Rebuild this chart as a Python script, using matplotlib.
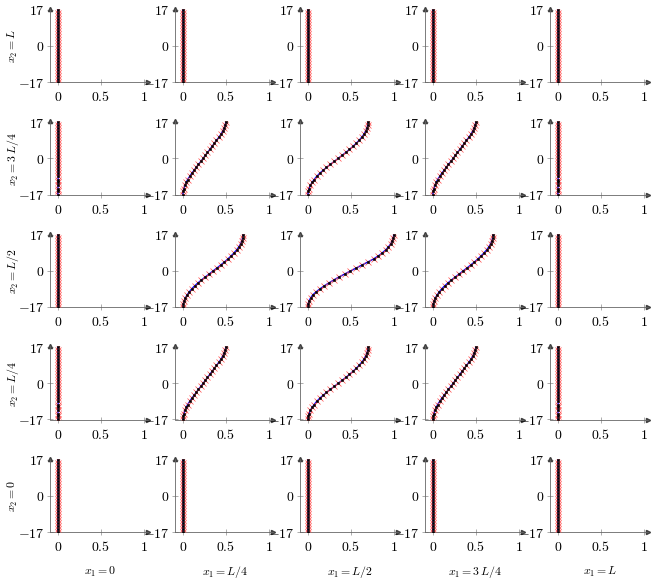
import numpy as np
import matplotlib
matplotlib.use('Agg')
import matplotlib.pyplot as plt

plt.rcParams['mathtext.fontset'] = 'cm'
plt.rcParams['font.family'] = 'serif'

# sample coordinates along x2 (same for all panels)
x2 = [-17, -15.58, -14.17, -12.75, -11.33, -9.92, -8.5, -7.08, -5.67, -4.25, -2.83, -1.42, 0,
      1.42, 2.83, 4.25, 5.67, 7.08, 8.5, 9.92, 11.33, 12.75, 14.17, 15.58, 17]

# displacement profiles
tiny = [0, 0.0005, 0.001, 0.0015, 0.002, 0.002, 0.0025, 0.0025, 0.003, 0.003, 0.003, 0.003, 0.003,
        0.003, 0.003, 0.003, 0.003, 0.0025, 0.0025, 0.002, 0.002, 0.0015, 0.001, 0.0005, 0]
small = [0, 0.001, 0.002, 0.003, 0.004, 0.004, 0.005, 0.005, 0.006, 0.006, 0.006, 0.006, 0.006,
         0.006, 0.006, 0.006, 0.006, 0.005, 0.005, 0.004, 0.004, 0.003, 0.002, 0.001, 0]
mid = [0, 0.001, 0.002, 0.003, 0.004, 0.005, 0.005, 0.006, 0.006, 0.007, 0.007, 0.007, 0.007,
       0.007, 0.007, 0.007, 0.006, 0.006, 0.005, 0.005, 0.004, 0.003, 0.002, 0.001, 0]
s50 = [0, 0.005, 0.013, 0.024, 0.04, 0.057, 0.08, 0.103, 0.13, 0.156, 0.182, 0.21, 0.236,
       0.262, 0.288, 0.314, 0.34, 0.366, 0.392, 0.418, 0.443, 0.463, 0.48, 0.493, 0.5]
s70 = [0, 0.006, 0.016, 0.03, 0.05, 0.075, 0.103, 0.137, 0.176, 0.218, 0.262, 0.308, 0.352,
       0.398, 0.442, 0.485, 0.525, 0.562, 0.596, 0.626, 0.652, 0.672, 0.687, 0.696, 0.7]
s100 = [0, 0.004, 0.015, 0.033, 0.058, 0.095, 0.14, 0.19, 0.245, 0.303, 0.364, 0.43, 0.497,
        0.565, 0.632, 0.70, 0.765, 0.82, 0.866, 0.905, 0.938, 0.964, 0.983, 0.995, 1.0]

grid = [
    [tiny, small, small, small, tiny],
    [small, s50, s70, s50, small],
    [mid, s70, s100, s70, mid],
    [small, s50, s70, s50, small],
    [tiny, small, small, small, tiny],
]

row_labels = [r'$x_2 = L$', r'$x_2 = 3\,L/4$', r'$x_2 = L/2$', r'$x_2 = L/4$', r'$x_2 = 0$']
col_labels = [r'$x_1 = 0$', r'$x_1 = L/4$', r'$x_1 = L/2$', r'$x_1 = 3\,L/4$', r'$x_1 = L$']

W, H = 656, 581
fig = plt.figure(figsize=(W / 100, H / 100), dpi=100)

for r in range(5):
    for c in range(5):
        left = 50 + 125 * c
        top = 8.7 + 112.5 * r
        ax = fig.add_axes([left / W, 1 - (top + 73.3) / H, 98 / W, 73.3 / H])
        xs = grid[r][c]
        ax.plot(xs, x2, color='blue', lw=1.0, zorder=2, snap=False)
        ax.plot(xs, x2, 'x', color='#ff4a4a', ms=4.0, mew=0.5, zorder=3, snap=False)
        ax.plot(xs, x2, 's', color='black', ms=1.7, mew=0.4, zorder=4, snap=False)
        ax.set_xlim(-0.09, 1.05)
        ax.set_ylim(-17, 17.6)
        ax.set_xticks([0, 0.5, 1], labels=[r'$0$', r'$0.5$', r'$1$'])
        ax.set_yticks([-17, 0, 17], labels=[r'$-17$', r'$0$', r'$17$'])
        ax.tick_params(direction='inout', length=4, width=0.5, color='0.55', labelsize=10, pad=2)
        ax.tick_params(axis='x', pad=4)
        for s in ['top', 'right']:
            ax.spines[s].set_visible(False)
        for s in ['left', 'bottom']:
            ax.spines[s].set_linewidth(0.6)
            ax.spines[s].set_color('0.4')
        ax.patch.set_visible(False)
        # arrow heads
        ax.plot(1, 0, '>', color='0.25', ms=3, transform=ax.transAxes, clip_on=False)
        ax.plot(0, 1, '^', color='0.25', ms=3, transform=ax.transAxes, clip_on=False)

for r in range(5):
    fig.text(13 / W, 1 - (46 + 112.5 * r) / H, row_labels[r], rotation=90,
             ha='center', va='center', fontsize=8.5)
for c in range(5):
    fig.text((100 + 125 * c) / W, 1 - 572 / H, col_labels[c],
             ha='center', va='center', fontsize=8.5)

fig.savefig('out.png', dpi=100)
